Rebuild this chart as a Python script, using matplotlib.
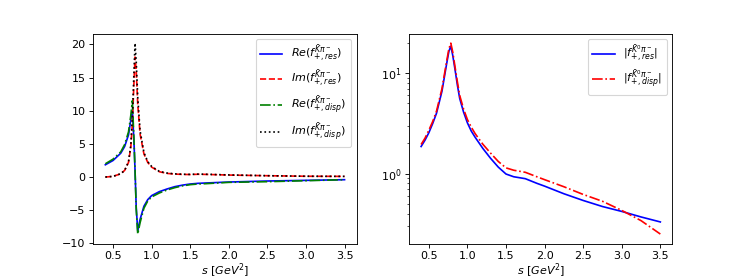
import numpy as np
import matplotlib
matplotlib.use('Agg')
import matplotlib.pyplot as plt

s_left = np.array([0.40, 0.50, 0.60, 0.65, 0.70, 0.73, 0.75, 0.77, 0.785,
                   0.80, 0.82, 0.85, 0.90, 0.95, 1.00, 1.10, 1.20, 1.30,
                   1.40, 1.50, 1.60, 1.70, 2.00, 2.50, 3.00, 3.50])
re_res = np.array([1.85, 2.5, 3.6, 4.6, 6.35, 8.6, 10.1, 5.6, 1.0,
                   -4.5, -8.15, -6.4, -4.4, -3.4, -2.8, -2.2, -1.8, -1.45,
                   -1.22, -1.05, -0.95, -0.9, -0.75, -0.6, -0.5, -0.4])
im_res = np.array([0.0, 0.1, 0.5, 1.0, 2.2, 4.5, 8.0, 14.0, 18.1,
                   16.0, 11.0, 6.5, 3.5, 2.2, 1.5, 0.8, 0.55, 0.45,
                   0.4, 0.38, 0.42, 0.4, 0.3, 0.2, 0.12, 0.1])
re_disp = np.array([2.0, 2.7, 3.8, 4.9, 6.8, 9.3, 11.5, 6.0, 1.0,
                    -4.8, -8.6, -6.9, -4.7, -3.6, -3.0, -2.4, -1.95, -1.6,
                    -1.33, -1.15, -1.05, -1.0, -0.8, -0.7, -0.55, -0.4])
im_disp = np.array([0.0, 0.1, 0.5, 1.0, 2.3, 4.8, 9.0, 15.5, 20.2,
                    17.5, 12.0, 7.0, 3.7, 2.3, 1.6, 0.85, 0.6, 0.48,
                    0.42, 0.4, 0.44, 0.42, 0.32, 0.2, 0.12, 0.1])

# right panel: moduli
s_right = np.array([0.40, 0.45, 0.50, 0.55, 0.60, 0.67, 0.73, 0.76, 0.785,
                    0.81, 0.84, 0.87, 0.90, 0.95, 1.00, 1.05, 1.10, 1.20,
                    1.30, 1.40, 1.50, 1.60, 1.75, 1.90, 2.00, 2.25, 2.50,
                    2.75, 3.00, 3.25, 3.50])
abs_res = np.array([1.86, 2.15, 2.55, 3.15, 4.0, 6.6, 12.3, 16.5, 18.6,
                    15.0, 10.8, 7.6, 5.6, 4.1, 3.2, 2.65, 2.3, 1.78,
                    1.42, 1.16, 0.99, 0.93, 0.89, 0.8, 0.75, 0.63, 0.54,
                    0.47, 0.42, 0.37, 0.33])
abs_disp = np.array([1.95, 2.25, 2.7, 3.3, 4.2, 7.0, 13.0, 17.5, 19.9,
                     16.2, 11.5, 8.2, 6.0, 4.4, 3.45, 2.9, 2.5, 1.96,
                     1.6, 1.32, 1.14, 1.08, 1.03, 0.93, 0.87, 0.74, 0.62,
                     0.53, 0.43, 0.34, 0.25])


def main():
    dpi = 80
    fig, (ax1, ax2) = plt.subplots(1, 2, figsize=(747 / dpi, 280 / dpi), dpi=dpi)
    fig.subplots_adjust(left=0.125, right=0.9, top=0.88, bottom=0.13, wspace=0.2)

    ax1.plot(s_left, re_res, 'b-', label=r'$Re(f_{+,res}^{\bar{K}\pi^-})$')
    ax1.plot(s_left, im_res, 'r--', label=r'$Im(f_{+,res}^{\bar{K}\pi^-})$')
    ax1.plot(s_left, re_disp, 'g-.', label=r'$Re(f_{+,disp}^{\bar{K}\pi^-})$')
    ax1.plot(s_left, im_disp, 'k:', label=r'$Im(f_{+,disp}^{\bar{K}\pi^-})$')
    ax1.set_xlabel(r'$s\ [GeV^2]$', labelpad=0)
    ax1.legend(loc='upper right')

    ax2.plot(s_right, abs_res, 'b-', label=r'$|f_{+,res}^{\bar{K}^0\pi^-}|$')
    ax2.plot(s_right, abs_disp, 'r-.', label=r'$|f_{+,disp}^{\bar{K}^0\pi^-}|$')
    ax2.set_yscale('log')
    ax2.set_xlabel(r'$s\ [GeV^2]$', labelpad=0)
    ax2.legend(loc='upper right')

    fig.savefig('out.png', dpi=dpi)


if __name__ == '__main__':
    main()
